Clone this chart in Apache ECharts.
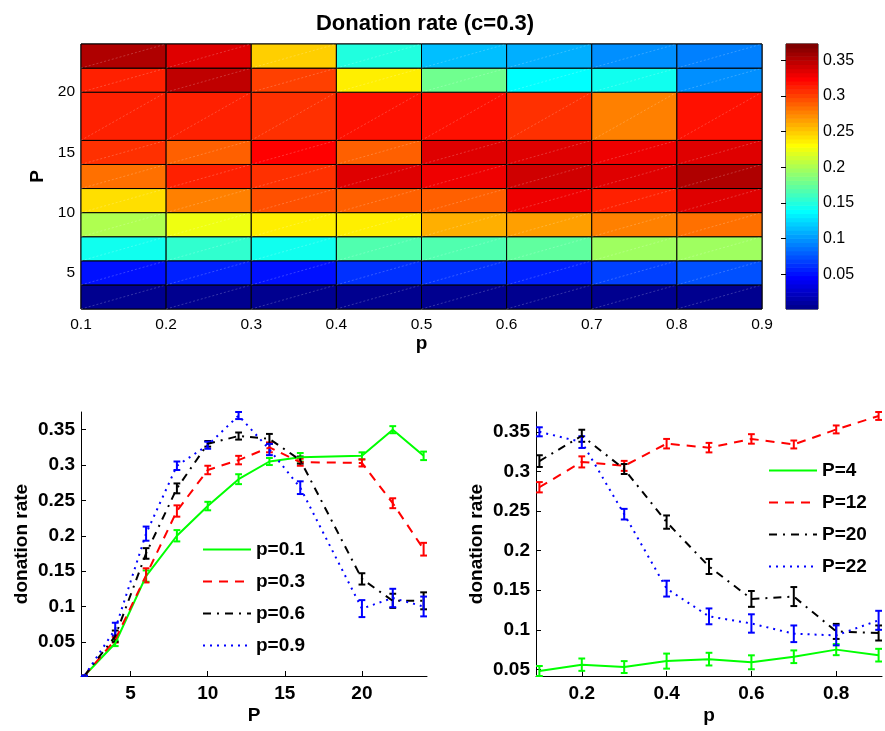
<!DOCTYPE html>
<html>
<head>
<meta charset="utf-8">
<script src="https://cdn.jsdelivr.net/npm/echarts@6/dist/echarts.min.js"></script>
<style>
  html, body { margin: 0; padding: 0; background: #ffffff; }
  #chart { width: 885px; height: 731px; }
</style>
</head>
<body>
<div id="chart"></div>
<script>
// ---- Donation-rate grid at c = 0.3 (pcolor-style: each cell spans edge k .. k+1) ----
const heatPEdges = [2, 4, 6, 8, 10, 12, 14, 16, 20, 22, 24];
const heatpEdges = [0.1, 0.2, 0.3, 0.4, 0.5, 0.6, 0.7, 0.8, 0.9];
// one row per P (2 .. 22), one column per p (0.1 .. 0.8)
const heatRates = [
  [0.002, 0.002, 0.002, 0.002, 0.002, 0.002, 0.002, 0.002],
  [0.048, 0.056, 0.053, 0.0605, 0.063, 0.059, 0.066, 0.075],
  [0.143, 0.153, 0.144, 0.165, 0.165, 0.175, 0.194, 0.198],
  [0.200, 0.227, 0.235, 0.235, 0.257, 0.267, 0.279, 0.283],
  [0.242, 0.279, 0.293, 0.290, 0.288, 0.330, 0.313, 0.335],
  [0.280, 0.312, 0.307, 0.335, 0.330, 0.341, 0.334, 0.353],
  [0.305, 0.290, 0.325, 0.290, 0.335, 0.337, 0.330, 0.335],
  [0.311, 0.311, 0.304, 0.318, 0.318, 0.307, 0.279, 0.318],
  [0.313, 0.345, 0.303, 0.236, 0.180, 0.139, 0.142, 0.098],
  [0.350, 0.337, 0.246, 0.152, 0.117, 0.108, 0.095, 0.093]
];
const colorLimits = [0.001, 0.373];
const colorbarTicks = [0.05, 0.1, 0.15, 0.2, 0.25, 0.3, 0.35];
const heatPTicks = [5, 10, 15, 20];

// ---- Donation rate vs P, one curve per p ----
const P_values = [2, 4, 6, 8, 10, 12, 14, 16, 20, 22, 24];
const rate_p01 = [0.002, 0.048, 0.143, 0.200, 0.242, 0.280, 0.305, 0.311, 0.313, 0.350, 0.313];
const err_p01  = [0.0003, 0.004, 0.008, 0.008, 0.006, 0.007, 0.005, 0.006, 0.005, 0.005, 0.006];
const rate_p03 = [0.002, 0.053, 0.144, 0.235, 0.293, 0.307, 0.325, 0.304, 0.303, 0.246, 0.181];
const err_p03  = [0.0003, 0.004, 0.010, 0.008, 0.006, 0.006, 0.007, 0.005, 0.005, 0.007, 0.009];
const rate_p06 = [0.002, 0.058, 0.175, 0.267, 0.330, 0.341, 0.337, 0.307, 0.139, 0.108, 0.108];
const err_p06  = [0.0003, 0.008, 0.0075, 0.007, 0.004, 0.005, 0.007, 0.005, 0.008, 0.010, 0.012];
const rate_p09 = [0.002, 0.068, 0.203, 0.299, 0.328, 0.370, 0.322, 0.268, 0.097, 0.112, 0.100];
const err_p09  = [0.0003, 0.009, 0.010, 0.006, 0.005, 0.005, 0.008, 0.009, 0.012, 0.013, 0.014];
const P_ticks = [5, 10, 15, 20];

// ---- Donation rate vs p, one curve per P ----
const p_values = [0.1, 0.2, 0.3, 0.4, 0.5, 0.6, 0.7, 0.8, 0.9];
const rate_P4  = [0.048, 0.056, 0.053, 0.0605, 0.063, 0.059, 0.066, 0.075, 0.068];
const err_P4   = [0.0063, 0.0078, 0.0075, 0.0095, 0.008, 0.0088, 0.008, 0.007, 0.008];
const rate_P12 = [0.280, 0.312, 0.307, 0.335, 0.330, 0.341, 0.334, 0.353, 0.370];
const err_P12  = [0.0065, 0.007, 0.0063, 0.006, 0.006, 0.006, 0.005, 0.005, 0.005];
const rate_P20 = [0.313, 0.345, 0.303, 0.236, 0.180, 0.139, 0.142, 0.098, 0.096];
const err_P20  = [0.0074, 0.0076, 0.0063, 0.0084, 0.0095, 0.010, 0.012, 0.0095, 0.0095];
const rate_P22 = [0.350, 0.337, 0.246, 0.152, 0.117, 0.108, 0.095, 0.093, 0.112];
const err_P22  = [0.0057, 0.0074, 0.0067, 0.010, 0.010, 0.0116, 0.0105, 0.0126, 0.012];
const p_ticks = [0.2, 0.4, 0.6, 0.8];
const rateTicks = [0.05, 0.1, 0.15, 0.2, 0.25, 0.3, 0.35];

// ---------------------------------------------------------------------------
const FONT = '"Liberation Sans", Arial, Helvetica, sans-serif';
const fmt = v => String(parseFloat(Number(v).toFixed(3)));

// MATLAB-style jet colormap with m entries
function jet(m) {
  const n = Math.ceil(m / 4);
  const u = [];
  for (let k = 1; k <= n; k++) u.push(k / n);
  for (let k = 1; k < n; k++) u.push(1);
  for (let k = n; k >= 1; k--) u.push(k / n);
  const g0 = Math.ceil(n / 2) - (m % 4 === 1 ? 1 : 0);
  const J = Array.from({ length: m }, () => [0, 0, 0]);
  u.forEach((val, i) => {
    const g = g0 + i + 1, r = g + n, b = g - n;
    if (r >= 1 && r <= m) J[r - 1][0] = val;
    if (g >= 1 && g <= m) J[g - 1][1] = val;
    if (b >= 1 && b <= m) J[b - 1][2] = val;
  });
  return J.map(c => 'rgb(' + c.map(x => Math.round(x * 255)).join(',') + ')');
}
const JET = jet(64);
function colorOf(v) {
  const [lo, hi] = colorLimits;
  let k = Math.floor((v - lo) / (hi - lo) * JET.length);
  k = Math.max(0, Math.min(JET.length - 1, k));
  return JET[k];
}

// cells: [p_lo, P_lo, p_hi, P_hi, rate]
const cells = [];
heatRates.forEach((row, j) => row.forEach((v, i) => {
  cells.push([heatpEdges[i], heatPEdges[j], heatpEdges[i + 1], heatPEdges[j + 1], v]);
}));
// colorbar bands: [0, lo, 1, hi, index]
const bandStep = (colorLimits[1] - colorLimits[0]) / JET.length;
const bands = JET.map((c, k) => [0, colorLimits[0] + k * bandStep, 1, colorLimits[0] + (k + 1) * bandStep, k]);

function rectFromCorners(api) {
  const a = api.coord([api.value(0), api.value(1)]);
  const b = api.coord([api.value(2), api.value(3)]);
  return { a, b, x: Math.min(a[0], b[0]), y: Math.min(a[1], b[1]),
           w: Math.abs(b[0] - a[0]), h: Math.abs(b[1] - a[1]) };
}

// error-bar panel helpers
function pairs(xs, ys, es) { return xs.map((x, i) => [x, ys[i], es[i]]); }
function extentOf(list) {
  let lo = Infinity, hi = -Infinity;
  list.forEach(([ys, es]) => ys.forEach((y, i) => { lo = Math.min(lo, y - es[i]); hi = Math.max(hi, y + es[i]); }));
  return [lo, hi];
}
const teeLeft = (P_values[P_values.length - 1] - P_values[0]) / 100;
const teeRight = (p_values[p_values.length - 1] - p_values[0]) / 100;
const leftY = extentOf([[rate_p01, err_p01], [rate_p03, err_p03], [rate_p06, err_p06], [rate_p09, err_p09]]);
const rightY = extentOf([[rate_P4, err_P4], [rate_P12, err_P12], [rate_P20, err_P20], [rate_P22, err_P22]]);

function errorBars(tee) {
  return function (params, api) {
    const x = api.value(0), y = api.value(1), e = api.value(2);
    const top = api.coord([x, y + e]);
    const bot = api.coord([x, y - e]);
    const l = api.coord([x - tee, y])[0];
    const r = api.coord([x + tee, y])[0];
    const style = { stroke: api.visual('color'), lineWidth: 2, fill: null };
    return {
      type: 'group',
      children: [
        { type: 'line', shape: { x1: top[0], y1: top[1], x2: bot[0], y2: bot[1] }, style },
        { type: 'line', shape: { x1: l, y1: top[1], x2: r, y2: top[1] }, style },
        { type: 'line', shape: { x1: l, y1: bot[1], x2: r, y2: bot[1] }, style }
      ]
    };
  };
}

const curveStyles = [
  { color: '#00ff00', type: 'solid' },
  { color: '#ff0000', type: [9, 7] },
  { color: '#000000', type: [8, 6, 2, 6] },
  { color: '#0000ff', type: [2, 5] }
];

function curveSeries(name, xs, ys, es, idx, axisIdx, tee) {
  const st = curveStyles[idx];
  return [
    {
      type: 'line', name, xAxisIndex: axisIdx, yAxisIndex: axisIdx,
      data: xs.map((x, i) => [x, ys[i]]),
      symbol: 'none', smooth: false,
      lineStyle: { color: st.color, width: 2, type: st.type },
      itemStyle: { color: st.color },
      emphasis: { disabled: true }
    },
    {
      type: 'custom', xAxisIndex: axisIdx, yAxisIndex: axisIdx,
      data: pairs(xs, ys, es),
      encode: { x: 0, y: 1 },
      itemStyle: { color: st.color },
      renderItem: errorBars(tee),
      silent: true
    }
  ];
}

const boldText = { color: '#000', fontFamily: FONT, fontWeight: 'bold', fontSize: 19 };
const plainText = { color: '#000', fontFamily: FONT, fontSize: 15.5 };

function panelX(gridIndex, min, max, ticks, name) {
  return {
    type: 'value', gridIndex, min, max, name, nameLocation: 'middle', nameGap: 30,
    nameTextStyle: boldText,
    axisLine: { show: true, onZero: false, lineStyle: { color: '#000', width: 1 } },
    axisTick: { show: true, inside: true, length: 5, customValues: ticks, lineStyle: { color: '#000' } },
    axisLabel: { customValues: ticks, formatter: fmt, margin: 8, ...boldText },
    splitLine: { show: false }
  };
}
function panelY(gridIndex, min, max, ticks, name) {
  return {
    type: 'value', gridIndex, min, max, name, nameLocation: 'middle', nameGap: 50,
    nameTextStyle: boldText,
    axisLine: { show: true, onZero: false, lineStyle: { color: '#000', width: 1 } },
    axisTick: { show: true, inside: true, length: 5, customValues: ticks, lineStyle: { color: '#000' } },
    axisLabel: { customValues: ticks, formatter: fmt, margin: 6, ...boldText },
    splitLine: { show: false }
  };
}

const legendCommon = {
  orient: 'vertical', padding: 0, itemWidth: 48, itemHeight: 14, itemGap: 13,
  selectedMode: false, textStyle: boldText,
  itemStyle: { color: 'rgba(0,0,0,0)', borderColor: 'rgba(0,0,0,0)', borderWidth: 0, opacity: 0 }
};

const option = {
  animation: false,
  backgroundColor: '#ffffff',
  title: {
    text: 'Donation rate (c=0.3)', left: 425, top: 13, padding: 0, textAlign: 'center',
    textStyle: { color: '#000', fontFamily: FONT, fontWeight: 'bold', fontSize: 22 }
  },
  legend: [
    { ...legendCommon, data: ['p=0.1', 'p=0.3', 'p=0.6', 'p=0.9'], left: 202, top: 540 },
    { ...legendCommon, data: ['P=4', 'P=12', 'P=20', 'P=22'], left: 768, top: 461 }
  ],
  grid: [
    { left: 81, top: 44, width: 681, height: 265, show: true, borderColor: '#000', borderWidth: 1, backgroundColor: 'transparent' },
    { left: 786, top: 44, width: 32, height: 265, show: true, borderColor: '#000', borderWidth: 1, backgroundColor: 'transparent' },
    { left: 81, top: 412, width: 346, height: 264 },
    { left: 536, top: 412, width: 346, height: 264 }
  ],
  xAxis: [
    {
      type: 'value', gridIndex: 0, min: heatpEdges[0], max: heatpEdges[heatpEdges.length - 1],
      name: 'p', nameLocation: 'middle', nameGap: 25, nameTextStyle: boldText,
      axisLine: { show: false }, axisTick: { show: false },
      axisLabel: { customValues: heatpEdges, formatter: fmt, margin: 8, ...plainText },
      splitLine: { show: false }
    },
    { type: 'value', gridIndex: 1, min: 0, max: 1, show: false },
    panelX(2, P_values[0] - teeLeft, P_values[P_values.length - 1] + teeLeft, P_ticks, 'P'),
    panelX(3, p_values[0] - teeRight, p_values[p_values.length - 1] + teeRight, p_ticks, 'p')
  ],
  yAxis: [
    {
      type: 'value', gridIndex: 0, min: heatPEdges[0], max: heatPEdges[heatPEdges.length - 1],
      name: 'P', nameLocation: 'middle', nameGap: 30, nameTextStyle: boldText,
      axisLine: { show: false }, axisTick: { show: false },
      axisLabel: { customValues: heatPTicks, formatter: fmt, margin: 6, ...plainText },
      splitLine: { show: false }
    },
    {
      type: 'value', gridIndex: 1, position: 'right', min: colorLimits[0], max: colorLimits[1], z: 10,
      axisLine: { show: false },
      axisTick: { show: true, inside: true, length: 5, customValues: colorbarTicks, lineStyle: { color: '#000' } },
      axisLabel: { customValues: colorbarTicks, formatter: fmt, margin: 5, color: '#000', fontFamily: FONT, fontSize: 16 },
      splitLine: { show: false }
    },
    panelY(2, leftY[0], leftY[1], rateTicks, 'donation rate'),
    panelY(3, rightY[0], rightY[1], rateTicks, 'donation rate')
  ],
  series: [
    {
      type: 'custom', xAxisIndex: 0, yAxisIndex: 0, data: cells,
      encode: { x: [0, 2], y: [1, 3] }, silent: true,
      renderItem(params, api) {
        const r = rectFromCorners(api);
        return {
          type: 'group',
          children: [
            { type: 'rect', shape: { x: r.x, y: r.y, width: r.w, height: r.h },
              style: { fill: colorOf(api.value(4)), stroke: '#000', lineWidth: 1 } },
            { type: 'line', shape: { x1: r.a[0], y1: r.a[1], x2: r.b[0], y2: r.b[1] },
              style: { stroke: 'rgba(255,255,255,0.3)', lineWidth: 0.7, lineDash: [2, 2] } }
          ]
        };
      }
    },
    {
      type: 'custom', xAxisIndex: 1, yAxisIndex: 1, data: bands,
      encode: { x: [0, 2], y: [1, 3] }, silent: true,
      renderItem(params, api) {
        const r = rectFromCorners(api);
        return { type: 'rect', shape: { x: r.x, y: r.y - 0.3, width: r.w, height: r.h + 0.6 },
                 style: { fill: JET[api.value(4)] } };
      }
    },
    ...curveSeries('p=0.1', P_values, rate_p01, err_p01, 0, 2, teeLeft),
    ...curveSeries('p=0.3', P_values, rate_p03, err_p03, 1, 2, teeLeft),
    ...curveSeries('p=0.6', P_values, rate_p06, err_p06, 2, 2, teeLeft),
    ...curveSeries('p=0.9', P_values, rate_p09, err_p09, 3, 2, teeLeft),
    ...curveSeries('P=4', p_values, rate_P4, err_P4, 0, 3, teeRight),
    ...curveSeries('P=12', p_values, rate_P12, err_P12, 1, 3, teeRight),
    ...curveSeries('P=20', p_values, rate_P20, err_P20, 2, 3, teeRight),
    ...curveSeries('P=22', p_values, rate_P22, err_P22, 3, 3, teeRight)
  ]
};

const chart = echarts.init(document.getElementById('chart'), null, { renderer: 'canvas' });
chart.setOption(option);
</script>
</body>
</html>
